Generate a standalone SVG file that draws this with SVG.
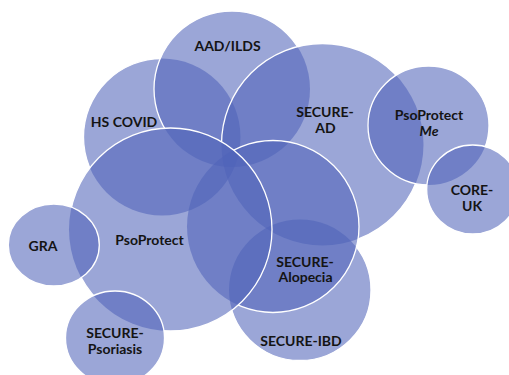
<svg xmlns="http://www.w3.org/2000/svg" xmlns:xlink="http://www.w3.org/1999/xlink" width="509" height="375" viewBox="0 0 509 375">
  <style>
    .disk { fill: rgb(79,99,184); fill-opacity: 0.57; }
    .ring { fill: none; stroke: #ffffff; stroke-width: 1.3; }
    .lbl { font-family: Lato, "Open Sans", "Liberation Sans", sans-serif; font-weight: 700; font-size: 14px; fill: #141414; text-anchor: middle; }
    .it { font-style: italic; }
  </style>
  <defs>
    <!-- circle shapes, listed bottom to top -->
    <ellipse id="s-hscovid" cx="162" cy="137" rx="78.5" ry="78.5"/>
    <ellipse id="s-aad" cx="232" cy="89" rx="78" ry="78"/>
    <ellipse id="s-securead" cx="322.5" cy="144.5" rx="101" ry="101"/>
    <ellipse id="s-ibd" cx="300" cy="290" rx="71" ry="70.5"/>
    <ellipse id="s-alopecia" cx="273" cy="226.5" rx="86" ry="86"/>
    <ellipse id="s-psoprotect" cx="170.5" cy="229.5" rx="101.5" ry="101.5"/>
    <ellipse id="s-gra" cx="53.8" cy="245" rx="45.5" ry="41"/>
    <ellipse id="s-psoriasis" cx="115" cy="338" rx="49.5" ry="47"/>
    <ellipse id="s-psome" cx="428.5" cy="125.5" rx="60.5" ry="59.5"/>
    <ellipse id="s-coreuk" cx="472.7" cy="189.5" rx="46" ry="44.5"/>

    <!-- each outline is hidden wherever a circle above it covers it -->
    <mask id="m-hscovid" maskUnits="userSpaceOnUse" x="0" y="0" width="509" height="375">
      <rect width="509" height="375" fill="#fff"/>
      <use xlink:href="#s-aad" fill="#000"/><use xlink:href="#s-securead" fill="#000"/>
      <use xlink:href="#s-ibd" fill="#000"/><use xlink:href="#s-alopecia" fill="#000"/>
      <use xlink:href="#s-psoprotect" fill="#000"/><use xlink:href="#s-gra" fill="#000"/>
      <use xlink:href="#s-psoriasis" fill="#000"/><use xlink:href="#s-psome" fill="#000"/>
      <use xlink:href="#s-coreuk" fill="#000"/>
    </mask>
    <mask id="m-aad" maskUnits="userSpaceOnUse" x="0" y="0" width="509" height="375">
      <rect width="509" height="375" fill="#fff"/>
      <use xlink:href="#s-securead" fill="#000"/>
      <use xlink:href="#s-ibd" fill="#000"/><use xlink:href="#s-alopecia" fill="#000"/>
      <use xlink:href="#s-psoprotect" fill="#000"/><use xlink:href="#s-gra" fill="#000"/>
      <use xlink:href="#s-psoriasis" fill="#000"/><use xlink:href="#s-psome" fill="#000"/>
      <use xlink:href="#s-coreuk" fill="#000"/>
    </mask>
    <mask id="m-securead" maskUnits="userSpaceOnUse" x="0" y="0" width="509" height="375">
      <rect width="509" height="375" fill="#fff"/>
      <use xlink:href="#s-ibd" fill="#000"/><use xlink:href="#s-alopecia" fill="#000"/>
      <use xlink:href="#s-psoprotect" fill="#000"/><use xlink:href="#s-gra" fill="#000"/>
      <use xlink:href="#s-psoriasis" fill="#000"/><use xlink:href="#s-psome" fill="#000"/>
      <use xlink:href="#s-coreuk" fill="#000"/>
    </mask>
    <mask id="m-ibd" maskUnits="userSpaceOnUse" x="0" y="0" width="509" height="375">
      <rect width="509" height="375" fill="#fff"/>
      <use xlink:href="#s-alopecia" fill="#000"/>
      <use xlink:href="#s-psoprotect" fill="#000"/><use xlink:href="#s-gra" fill="#000"/>
      <use xlink:href="#s-psoriasis" fill="#000"/><use xlink:href="#s-psome" fill="#000"/>
      <use xlink:href="#s-coreuk" fill="#000"/>
    </mask>
    <mask id="m-alopecia" maskUnits="userSpaceOnUse" x="0" y="0" width="509" height="375">
      <rect width="509" height="375" fill="#fff"/>
      <use xlink:href="#s-psoprotect" fill="#000"/><use xlink:href="#s-gra" fill="#000"/>
      <use xlink:href="#s-psoriasis" fill="#000"/><use xlink:href="#s-psome" fill="#000"/>
      <use xlink:href="#s-coreuk" fill="#000"/>
    </mask>
    <mask id="m-psoprotect" maskUnits="userSpaceOnUse" x="0" y="0" width="509" height="375">
      <rect width="509" height="375" fill="#fff"/>
      <use xlink:href="#s-gra" fill="#000"/>
      <use xlink:href="#s-psoriasis" fill="#000"/><use xlink:href="#s-psome" fill="#000"/>
      <use xlink:href="#s-coreuk" fill="#000"/>
    </mask>
    <mask id="m-psome" maskUnits="userSpaceOnUse" x="0" y="0" width="509" height="375">
      <rect width="509" height="375" fill="#fff"/>
      <use xlink:href="#s-coreuk" fill="#000"/>
    </mask>
  </defs>

  <g id="node-hs-covid">
    <use xlink:href="#s-hscovid" class="disk"/>
    <use xlink:href="#s-hscovid" class="ring" mask="url(#m-hscovid)"/>
    <text class="lbl" x="124" y="127">HS COVID</text>
  </g>
  <g id="node-aad-ilds">
    <use xlink:href="#s-aad" class="disk"/>
    <use xlink:href="#s-aad" class="ring" mask="url(#m-aad)"/>
    <text class="lbl" x="227.5" y="51">AAD/ILDS</text>
  </g>
  <g id="node-secure-ad">
    <use xlink:href="#s-securead" class="disk"/>
    <use xlink:href="#s-securead" class="ring" mask="url(#m-securead)"/>
    <text class="lbl" x="325" y="117">SECURE-</text>
    <text class="lbl" x="325.5" y="132.5">AD</text>
  </g>
  <g id="node-secure-ibd">
    <use xlink:href="#s-ibd" class="disk"/>
    <use xlink:href="#s-ibd" class="ring" mask="url(#m-ibd)"/>
    <text class="lbl" x="301" y="345.5">SECURE-IBD</text>
  </g>
  <g id="node-secure-alopecia">
    <use xlink:href="#s-alopecia" class="disk"/>
    <use xlink:href="#s-alopecia" class="ring" mask="url(#m-alopecia)"/>
    <text class="lbl" x="305" y="266.5">SECURE-</text>
    <text class="lbl" x="305.5" y="282">Alopecia</text>
  </g>
  <g id="node-psoprotect">
    <use xlink:href="#s-psoprotect" class="disk"/>
    <use xlink:href="#s-psoprotect" class="ring" mask="url(#m-psoprotect)"/>
    <text class="lbl" x="149.5" y="244.5">PsoProtect</text>
  </g>
  <g id="node-gra">
    <use xlink:href="#s-gra" class="disk"/>
    <use xlink:href="#s-gra" class="ring"/>
    <text class="lbl" x="43" y="251">GRA</text>
  </g>
  <g id="node-secure-psoriasis">
    <use xlink:href="#s-psoriasis" class="disk"/>
    <use xlink:href="#s-psoriasis" class="ring"/>
    <text class="lbl" x="115" y="337.5">SECURE-</text>
    <text class="lbl" x="115" y="353.5">Psoriasis</text>
  </g>
  <g id="node-psoprotect-me">
    <use xlink:href="#s-psome" class="disk"/>
    <use xlink:href="#s-psome" class="ring" mask="url(#m-psome)"/>
    <text class="lbl" x="429" y="119.5">PsoProtect</text>
    <text class="lbl it" x="429" y="136">Me</text>
  </g>
  <g id="node-core-uk">
    <use xlink:href="#s-coreuk" class="disk"/>
    <use xlink:href="#s-coreuk" class="ring"/>
    <text class="lbl" x="472" y="194.5">CORE-</text>
    <text class="lbl" x="472" y="211">UK</text>
  </g>

  <g id="connectors"/>
</svg>
